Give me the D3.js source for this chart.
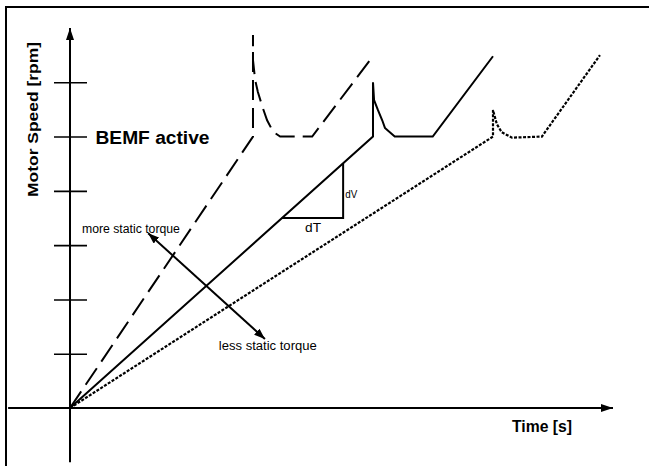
<!DOCTYPE html>
<html><head><meta charset="utf-8">
<script src="https://cdn.jsdelivr.net/npm/d3@7"></script>
<style>html,body{margin:0;padding:0;background:#fff;} svg{display:block;font-family:Arial,"Liberation Sans",sans-serif;}</style>
</head><body><svg id="c" width="649" height="466"></svg>
<script>
// time [arb. units], speed [arb. units]
const fastRamp = [[0,0],[3.37,5.0],[3.37,6.87],[3.37,6.41],[3.41,6.04],[3.46,5.82],[3.55,5.53],[3.63,5.30],[3.74,5.09],[3.87,5.0],[4.46,5.0],[5.58,6.48]];
const midRamp  = [[0,0],[5.58,5.0],[5.58,6.0],[5.60,5.67],[5.67,5.49],[5.75,5.30],[5.80,5.16],[5.89,5.08],[5.98,5.0],[6.68,5.0],[7.79,6.48]];
const slowRamp = [[0,0],[7.79,5.0],[7.79,5.49],[7.83,5.34],[7.86,5.23],[7.95,5.08],[8.14,4.98],[8.69,5.0],[9.76,6.50]];
const yTickValues = [1,2,3,4,5,6];
const slopeTriangle = [[3.90,3.50],[5.03,3.50],[5.03,4.51]];
const torqueArrow = [[1.44,3.22],[3.59,1.27]];
const annotations = [
  {text:"BEMF active", t:0.47, v:4.87, size:18, weight:"bold", len:114},
  {text:"dV", t:5.07, v:3.87, size:11, weight:"normal", len:12},
  {text:"dT", t:4.33, v:3.24, size:12, weight:"normal", len:16},
  {text:"more static torque", t:0.22, v:3.22, size:12, weight:"normal", len:98},
  {text:"less static torque", t:2.74, v:1.07, size:12, weight:"normal", len:98},
  {text:"Time [s]", t:8.14, v:-0.44, size:16, weight:"bold", len:60}
];
const axisTitleY = "Motor Speed [rpm]";

const svg = d3.select("#c");
const x = d3.scaleLinear([0,10],[70,613]);
const y = d3.scaleLinear([0,7],[408,28]);

const defs = svg.append("defs");
function marker(id,len,w){
  defs.append("marker").attr("id",id).attr("markerUnits","userSpaceOnUse")
    .attr("markerWidth",len).attr("markerHeight",w).attr("refX",len).attr("refY",w/2)
    .attr("orient","auto-start-reverse")
    .append("path").attr("d",`M0,0L${len},${w/2}L0,${w}Z`).attr("fill","#000");
}
marker("ax",12,8);
marker("ar",11,8);

// frame
svg.append("rect").attr("x",6).attr("y",7).attr("width",700).attr("height",500)
  .attr("fill","none").attr("stroke","#000").attr("stroke-width",2);

// axes
svg.append("line").attr("x1",x(0)).attr("x2",x(0)).attr("y1",y(-1)).attr("y2",y(7))
  .attr("stroke","#000").attr("stroke-width",2).attr("marker-end","url(#ax)");
svg.append("line").attr("x1",x(-1.14)).attr("x2",x(10)).attr("y1",y(0)).attr("y2",y(0))
  .attr("stroke","#000").attr("stroke-width",2).attr("marker-end","url(#ax)");

const ya = svg.append("g").attr("transform",`translate(${x(0)},0)`)
  .call(d3.axisLeft(y).tickValues(yTickValues).tickSize(0).tickFormat(""));
ya.select(".domain").remove();
ya.selectAll(".tick line").attr("x1",-16).attr("x2",17).attr("stroke","#000").attr("stroke-width",1.6);

const line = d3.line().x(d=>x(d[0])).y(d=>y(d[1]));
svg.append("path").attr("d",line(fastRamp)).attr("fill","none").attr("stroke","#000")
  .attr("stroke-width",2).attr("stroke-dasharray","20,8");
svg.append("path").attr("d",line(midRamp)).attr("fill","none").attr("stroke","#000")
  .attr("stroke-width",2);
svg.append("path").attr("d",line(slowRamp)).attr("fill","none").attr("stroke","#000")
  .attr("stroke-width",2.2).attr("stroke-dasharray","3,1.5");
svg.append("path").attr("d",line(slopeTriangle)).attr("fill","none").attr("stroke","#000")
  .attr("stroke-width",2);
svg.append("line").attr("x1",x(torqueArrow[0][0])).attr("y1",y(torqueArrow[0][1]))
  .attr("x2",x(torqueArrow[1][0])).attr("y2",y(torqueArrow[1][1]))
  .attr("stroke","#000").attr("stroke-width",2)
  .attr("marker-start","url(#ar)").attr("marker-end","url(#ar)");

svg.selectAll("text.ann").data(annotations).join("text").attr("class","ann")
  .attr("x",d=>x(d.t)).attr("y",d=>y(d.v))
  .attr("font-size",d=>d.size).attr("font-weight",d=>d.weight)
  .attr("textLength",d=>d.len).attr("lengthAdjust","spacingAndGlyphs")
  .text(d=>d.text);

svg.append("text").attr("transform","translate(38,197) rotate(-90)")
  .attr("font-size",15).attr("font-weight","bold")
  .attr("textLength",155).attr("lengthAdjust","spacingAndGlyphs")
  .text(axisTitleY);
</script></body></html>
